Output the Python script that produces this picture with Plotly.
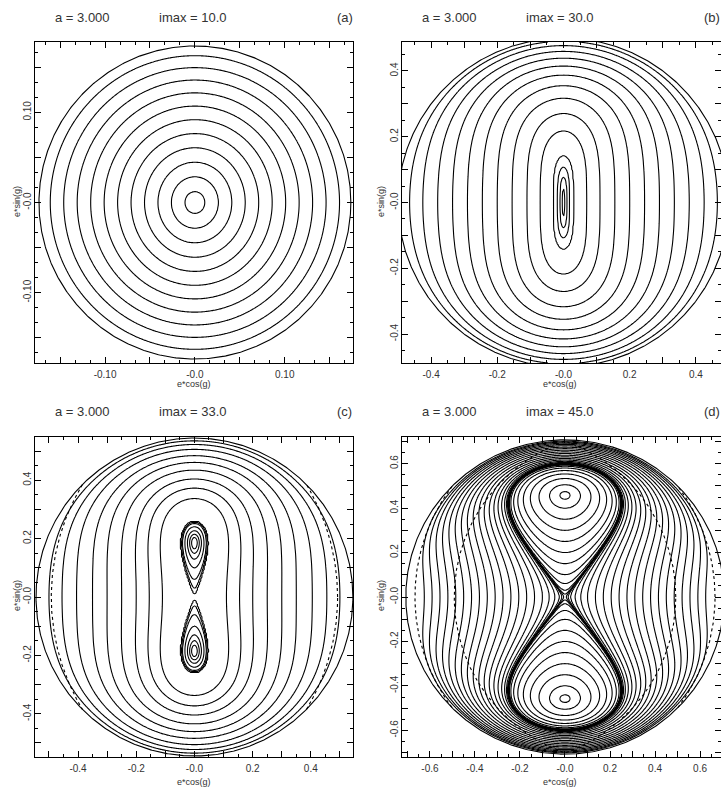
import numpy as np
import plotly.graph_objects as go

# Orbital constants (AU)
A_ASTEROID = 3.0
A_JUPITER = 5.2026
NODE_CROSSING_A = [1.5237, 1.0]             # Mars, Earth
SEMI_MAJOR_TEXT = "a = 3.000"

PANEL_TAGS = ["(a)", "(b)", "(c)", "(d)"]
I_MAX = [10.0, 30.0, 33.0, 45.0]            # inclination at e = 0 (deg)
OUTER_E = [0.1736, 0.5000, 0.5446, 0.7071]  # limiting orbit (i = 0)

# eccentricities where circulating curves cut the g = 0 axis
CIRC_A = [0.011, 0.026, 0.041, 0.056, 0.071, 0.086, 0.101, 0.116, 0.131, 0.146, 0.161]
CIRC_B = [0.004, 0.010, 0.018, 0.030, 0.070, 0.110, 0.155, 0.200, 0.245, 0.290,
          0.335, 0.380, 0.425, 0.465]
CIRC_C = [0.110, 0.155, 0.200, 0.250, 0.300, 0.350, 0.405, 0.455, 0.500]
CIRC_D = [0.006, 0.014, 0.025, 0.045, 0.070, 0.100, 0.135, 0.170, 0.205, 0.240,
          0.275, 0.310, 0.345, 0.380, 0.415, 0.450, 0.485, 0.520, 0.555, 0.590, 0.625]
# e*sin(g) where librating curves cut the g = 90 deg axis (inner side of the island)
LIB_A = []
LIB_B = []
LIB_C = [0.165, 0.150, 0.130, 0.100, 0.060, 0.030, 0.012]
LIB_D = [0.440, 0.400, 0.350, 0.300, 0.250, 0.200, 0.150, 0.100, 0.060, 0.030, 0.012]

# tick labels
TICKS_A = [-0.10, 0.0, 0.10]
TICKTEXT_A = ["-0.10", "-0.0", "0.10"]
TICKS_BC = [-0.4, -0.2, 0.0, 0.2, 0.4]
TICKTEXT_BC = ["-0.4", "-0.2", "-0.0", "0.2", "0.4"]
TICKS_D = [-0.6, -0.4, -0.2, 0.0, 0.2, 0.4, 0.6]
TICKTEXT_D = ["-0.6", "-0.4", "-0.2", "-0.0", "0.2", "0.4", "0.6"]

# ---------------------------------------------------------------- layout geometry
W, H = 721, 789
LEFT_DOM = [35 / W, 353 / W]
RIGHT_DOM = [402 / W, 1.0]
TOP_DOM = [1 - 363 / H, 1 - 42 / H]
BOT_DOM = [1 - 757 / H, 1 - 437 / H]

PANELS = [
    dict(circ=CIRC_A, lib=LIB_A, ticks=TICKS_A, text=TICKTEXT_A, major=0.05, minor=0.05 / 3,
         xr=[-0.178, 0.176], yr=[-0.178, 0.178], xd=LEFT_DOM, yd=TOP_DOM, dotted=False),
    dict(circ=CIRC_B, lib=LIB_B, ticks=TICKS_BC, text=TICKTEXT_BC, major=0.1, minor=0.05,
         xr=[-0.488, 0.476], yr=[-0.488, 0.488], xd=RIGHT_DOM, yd=TOP_DOM, dotted=False),
    dict(circ=CIRC_C, lib=LIB_C, ticks=TICKS_BC, text=TICKTEXT_BC, major=0.1, minor=0.05,
         xr=[-0.548, 0.545], yr=[-0.548, 0.548], xd=LEFT_DOM, yd=BOT_DOM, dotted=True),
    dict(circ=CIRC_D, lib=LIB_D, ticks=TICKS_D, text=TICKTEXT_D, major=0.1, minor=0.05,
         xr=[-0.724, 0.693], yr=[-0.72, 0.72], xd=RIGHT_DOM, yd=BOT_DOM, dotted=True),
]

FONT = "Liberation Sans"
TEXT_COLOR = "#333333"


# ---------------------------------------------------------------- secular model
def ring_mean_inverse_distance(rho, z, a_ring):
    """Mean of 1/distance to a circular ring (complete elliptic integral via AGM)."""
    s2 = (a_ring + rho) ** 2 + z ** 2
    kp = np.sqrt(np.clip(1.0 - 4.0 * a_ring * rho / s2, 1e-16, 1.0))
    am, gm = np.ones_like(kp), kp
    for _ in range(10):
        am, gm = 0.5 * (am + gm), np.sqrt(am * gm)
    return 1.0 / (am * np.sqrt(s2))


def secular_potential(x, y, imax_deg, n_anom=128):
    """Doubly averaged disturbing function of Jupiter on the asteroid."""
    e = np.hypot(x, y)
    theta = np.cos(np.radians(imax_deg))
    e_c = np.minimum(e, 0.95)
    sin2_i = np.clip(1.0 - theta ** 2 / (1.0 - e_c ** 2), 0.0, 1.0)
    sin_i = np.sqrt(sin2_i)
    cos_i = np.sqrt(1.0 - sin2_i)
    safe = np.maximum(e, 1e-12)
    cg = np.where(e > 0, x / safe, 1.0)
    sg = np.where(e > 0, y / safe, 0.0)
    beta = np.sqrt(1.0 - e_c ** 2)
    total = np.zeros_like(e, dtype=float)
    for k in range(n_anom):
        ea = 2.0 * np.pi * (k + 0.5) / n_anom
        px = A_ASTEROID * (np.cos(ea) - e_c)
        py = A_ASTEROID * beta * np.sin(ea)
        u = px * cg - py * sg
        v = px * sg + py * cg
        rho = np.sqrt(u ** 2 + (v * cos_i) ** 2)
        zz = v * sin_i
        total += (1.0 - e_c * np.cos(ea)) * ring_mean_inverse_distance(rho, zz, A_JUPITER)
    return total / n_anom


def level_index_field(z, levels):
    """Monotone remap so that the requested levels become 1, 2, ..., n."""
    lv = np.sort(np.asarray(levels, dtype=float))
    keep = [lv[0]]
    for v in lv[1:]:
        if v - keep[-1] > 1e-12:
            keep.append(v)
    lv = np.array(keep)
    if len(lv) > 1:
        d_lo, d_hi = lv[1] - lv[0], lv[-1] - lv[-2]
    else:
        d_lo = d_hi = 1e-6
    xp = np.concatenate([[lv[0] - d_lo], lv, [lv[-1] + d_hi]])
    fp = np.arange(len(xp), dtype=float)
    return np.interp(z, xp, fp), len(lv)


def node_crossing_curve(r_node, e_outer, n=1441):
    """Orbits with a node at heliocentric distance r_node."""
    g = np.linspace(0, 2 * np.pi, n)
    c = np.abs(np.cos(g))
    a = A_ASTEROID
    e = (-r_node * c + np.sqrt(r_node ** 2 * c ** 2 + 4 * a * (a - r_node))) / (2 * a)
    x = e * np.cos(g)
    y = e * np.sin(g)
    x[e > e_outer] = np.nan
    y[e > e_outer] = np.nan
    return x, y


fig = go.Figure()
NG = 281

for idx, (p, imax, e_out, tag) in enumerate(zip(PANELS, I_MAX, OUTER_E, PANEL_TAGS)):
    sfx = "" if idx == 0 else str(idx + 1)
    xa, ya = "x" + sfx, "y" + sfx

    xs = np.linspace(p["xr"][0], p["xr"][1], NG)
    ys = np.linspace(p["yr"][0], p["yr"][1], NG)
    XX, YY = np.meshgrid(xs, ys)
    Z = secular_potential(XX, YY, imax)

    lv_pts_x = np.array(list(p["circ"]) + [0.0] * len(p["lib"]))
    lv_pts_y = np.array([0.0] * len(p["circ"]) + list(p["lib"]))
    levels = secular_potential(lv_pts_x, lv_pts_y, imax)
    Zt, n_lv = level_index_field(Z, levels)

    fig.add_trace(go.Contour(
        x=xs, y=ys, z=np.round(Zt, 5), xaxis=xa, yaxis=ya,
        autocontour=False, contours=dict(start=1, end=n_lv, size=1, coloring="none"),
        line=dict(color="black", width=1.1), showscale=False, hoverinfo="skip",
    ))

    t = np.linspace(0, 2 * np.pi, 721)
    fig.add_trace(go.Scatter(
        x=e_out * np.cos(t), y=e_out * np.sin(t), xaxis=xa, yaxis=ya, mode="lines",
        line=dict(color="black", width=1.1), hoverinfo="skip", showlegend=False,
    ))

    if p["dotted"]:
        for r_node in NODE_CROSSING_A:
            dx, dy = node_crossing_curve(r_node, e_out)
            if np.all(np.isnan(dx)):
                continue
            fig.add_trace(go.Scatter(
                x=dx, y=dy, xaxis=xa, yaxis=ya, mode="lines",
                line=dict(color="black", width=1.1, dash="dot"),
                hoverinfo="skip", showlegend=False,
            ))

    # ticks: long ticks every `major`, labels only at the listed values
    def tick_arrays(rng):
        k0 = int(np.ceil(rng[0] / p["major"] - 1e-9))
        k1 = int(np.floor(rng[1] / p["major"] + 1e-9))
        vals = [round(k * p["major"], 6) for k in range(k0, k1 + 1)]
        txt = []
        for v in vals:
            lab = ""
            for tv, tt in zip(p["ticks"], p["text"]):
                if abs(v - tv) < 1e-6:
                    lab = tt
            txt.append(lab)
        return vals, txt

    common = dict(
        showgrid=False, zeroline=False, showline=True, linecolor="black", linewidth=1,
        mirror="allticks", ticks="inside", ticklen=6, tickwidth=1, tickcolor="black",
        tickfont=dict(family=FONT, size=10, color=TEXT_COLOR), tickmode="array",
        minor=dict(ticks="inside", ticklen=3, tickwidth=1, tickcolor="black",
                   dtick=p["minor"], tick0=0, showgrid=False),
    )
    xv, xt = tick_arrays(p["xr"])
    yv, yt = tick_arrays(p["yr"])
    fig.layout["xaxis" + sfx] = dict(common, domain=p["xd"], range=p["xr"], anchor=ya,
                                      tickvals=xv, ticktext=xt, ticklabelstandoff=2)
    fig.layout["yaxis" + sfx] = dict(common, domain=p["yd"], range=p["yr"], anchor=xa,
                                      tickvals=yv, ticktext=yt, tickangle=-90,
                                      ticklabelstandoff=-1)

    # panel headings and axis titles
    left_px = 35 if p["xd"] is LEFT_DOM else 402
    top_row = p["yd"] is TOP_DOM
    head_y = 1 - (18 if top_row else 412) / H
    head_font = dict(family=FONT, size=13, color=TEXT_COLOR)
    fig.add_annotation(x=(left_px + 18) / W, y=head_y, xref="paper", yref="paper",
                       text=SEMI_MAJOR_TEXT, showarrow=False, xanchor="left",
                       yanchor="middle", font=head_font)
    fig.add_annotation(x=(left_px + 122) / W, y=head_y, xref="paper", yref="paper",
                       text="imax = %.1f" % imax, showarrow=False, xanchor="left",
                       yanchor="middle", font=head_font)
    fig.add_annotation(x=(left_px + 300) / W, y=head_y, xref="paper", yref="paper",
                       text=tag, showarrow=False, xanchor="left", yanchor="middle",
                       font=head_font)

    lab_font = dict(family=FONT, size=9, color=TEXT_COLOR)
    cx = 194 if left_px == 35 else 560
    fig.add_annotation(x=cx / W, y=1 - (384 if top_row else 782) / H, xref="paper",
                       yref="paper", text="e*cos(g)", showarrow=False,
                       xanchor="center", yanchor="middle", font=lab_font)
    fig.add_annotation(x=(17 if left_px == 35 else 381) / W,
                       y=1 - (202 if top_row else 596) / H, xref="paper", yref="paper",
                       text="e*sin(g)", showarrow=False, textangle=-90,
                       xanchor="center", yanchor="middle", font=lab_font)

fig.update_layout(
    width=W, height=H, margin=dict(l=0, r=0, t=0, b=0, pad=0),
    paper_bgcolor="white", plot_bgcolor="white", showlegend=False,
)

fig.write_html("out.html", config={"displayModeBar": False})
